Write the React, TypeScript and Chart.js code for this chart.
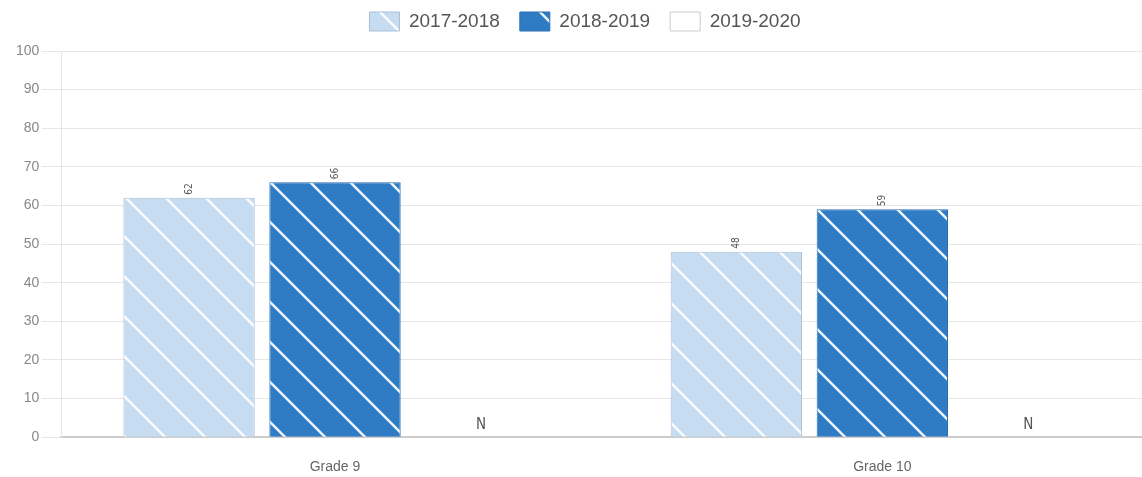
import React, { useEffect, useRef } from "react";
import { Chart, registerables } from "chart.js";

Chart.register(...registerables);

const categories = ["Grade 9", "Grade 10"];
const seriesNames = ["2017-2018", "2018-2019", "2019-2020"];
const values2017 = [62, 48];
const values2018 = [66, 59];
const values2019: (number | null)[] = [null, null];
const yTicks = [0, 10, 20, 30, 40, 50, 60, 70, 80, 90, 100];

function makePattern(bg: string): CanvasPattern | string {
  const p = 40;
  const c = document.createElement("canvas");
  c.width = p;
  c.height = p;
  const ctx = c.getContext("2d");
  if (!ctx) return bg;
  ctx.fillStyle = bg;
  ctx.fillRect(0, 0, p, p);
  ctx.strokeStyle = "rgba(255,255,255,0.92)";
  ctx.lineWidth = 2.5;
  for (const x0 of [-p, 0, p]) {
    ctx.beginPath();
    ctx.moveTo(x0 - 10, -10);
    ctx.lineTo(x0 + p + 10, p + 10);
    ctx.stroke();
  }
  const pat = ctx.createPattern(c, "repeat");
  return pat || bg;
}

const labelPlugin = {
  id: "barLabels",
  afterDatasetsDraw(chart: any) {
    const ctx = chart.ctx;
    const yScale = chart.scales.y;
    chart.data.datasets.forEach((ds: any, di: number) => {
      const meta = chart.getDatasetMeta(di);
      meta.data.forEach((el: any, i: number) => {
        const v = ds.data[i];
        ctx.save();
        ctx.fillStyle = "#555";
        if (v === null || v === undefined) {
          ctx.font = '15px "Liberation Sans Narrow", "DejaVu Sans Condensed", sans-serif';
          ctx.textAlign = "center";
          ctx.textBaseline = "middle";
          ctx.fillText("N", el.x, yScale.getPixelForValue(0) - 12);
        } else {
          ctx.font = '10px "Liberation Sans Narrow", "DejaVu Sans Condensed", sans-serif';
          ctx.translate(el.x, yScale.getPixelForValue(v) - 3);
          ctx.rotate(-Math.PI / 2);
          ctx.textAlign = "left";
          ctx.textBaseline = "middle";
          ctx.fillText(String(v), 0, 0);
        }
        ctx.restore();
      });
    });
  },
};

const legendMargin = {
  id: "legendMargin",
  beforeInit(chart: any) {
    const legend = chart.legend;
    if (!legend) return;
    const orig = legend.fit;
    legend.fit = function () {
      orig.call(this);
      this.height += 10;
    };
  },
};

export default function App() {
  const ref = useRef<HTMLCanvasElement | null>(null);
  useEffect(() => {
    document.body.style.margin = "0";
    document.body.style.overflow = "hidden";
    if (!ref.current) return;
    const light = makePattern("#c6dcf1");
    const dark = makePattern("#2f7cc5");
    const chart = new Chart(ref.current, {
      type: "bar",
      data: {
        labels: categories,
        datasets: [
          {
            label: seriesNames[0],
            data: values2017,
            backgroundColor: light as any,
            borderColor: "#a9bfd6",
            borderWidth: 1,
          },
          {
            label: seriesNames[1],
            data: values2018,
            backgroundColor: dark as any,
            borderColor: "#2b6fb2",
            borderWidth: 1,
          },
          {
            label: seriesNames[2],
            data: values2019,
            backgroundColor: "#ffffff",
            borderColor: "#cccccc",
            borderWidth: 1,
          },
        ],
      },
      options: {
        responsive: false,
        animation: false,
        devicePixelRatio: 1,
        layout: { padding: { left: 14, right: 16, top: 0, bottom: 4 } },
        datasets: {
          bar: { categoryPercentage: 0.8, barPercentage: 0.9 },
        } as any,
        plugins: {
          legend: {
            position: "top",
            labels: {
              boxWidth: 30,
              boxHeight: 19,
              padding: 20,
              color: "#555",
              font: { family: "Liberation Sans, Arial, sans-serif", size: 19 },
            },
          },
          tooltip: { enabled: false },
        },
        scales: {
          x: {
            grid: { display: false },
            border: { color: "#cccccc", width: 2 },
            ticks: {
              color: "#666",
              font: { family: "Liberation Sans, Arial, sans-serif", size: 14 },
              padding: 14,
            },
          },
          y: {
            min: 0,
            max: 100,
            afterBuildTicks: (axis: any) => {
              axis.ticks = yTicks.map((v) => ({ value: v }));
            },
            grid: { color: "#e6e6e6", tickLength: 20, lineWidth: 1 },
            border: { color: "#e6e6e6" },
            ticks: {
              color: "#888",
              padding: 2,
              font: { family: "Liberation Sans, Arial, sans-serif", size: 14 },
            },
          },
        },
      },
      plugins: [labelPlugin, legendMargin],
    });
    return () => chart.destroy();
  }, []);
  return (
    <div style={{ position: "fixed", left: 0, top: 0, width: 1142, height: 477, overflow: "hidden" }}>
      <canvas
        ref={ref}
        width={1172}
        height={502}
        style={{ position: "absolute", left: 0, top: -8, width: 1172, height: 502 }}
      />
    </div>
  );
}
